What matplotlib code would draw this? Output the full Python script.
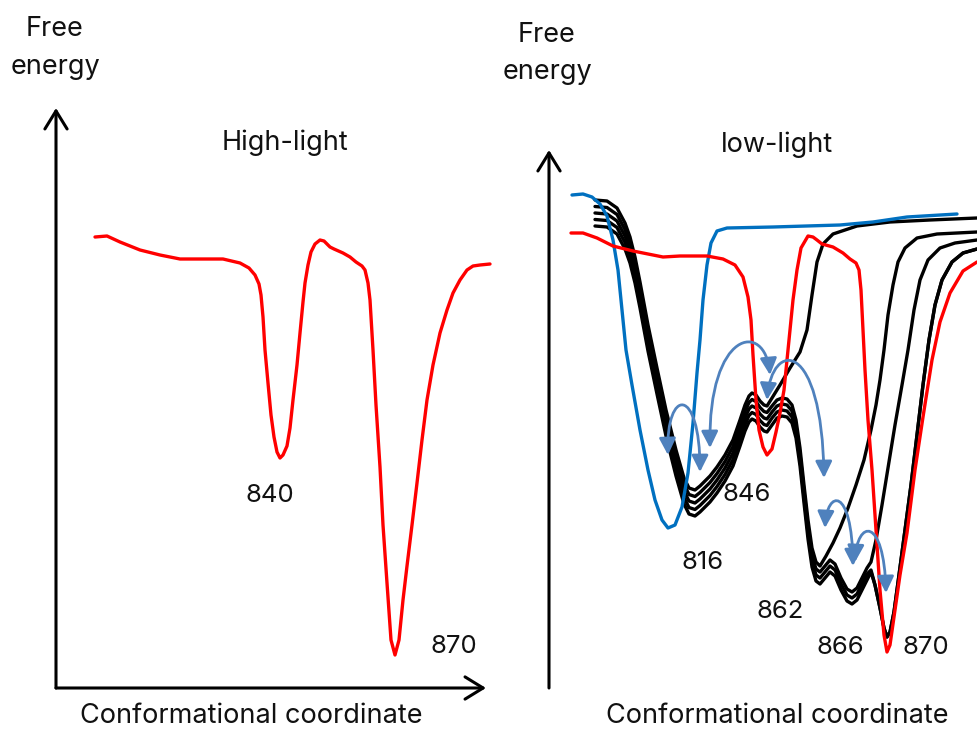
import matplotlib
matplotlib.use("Agg")
import matplotlib.pyplot as plt
from matplotlib.patches import FancyArrowPatch
from matplotlib.path import Path

plt.rcParams['font.family'] = ['Inter', 'DejaVu Sans']

# ---------------- data (positions, pixel units) ----------------
# High-light panel: red free-energy profile
hl_x = [95, 107, 120, 140, 160, 180, 200, 223, 240, 249, 255, 259, 261, 263, 265, 268, 271, 274, 277, 280,
        283, 287, 290, 293, 297, 300, 303, 305, 308, 311, 315, 320, 324, 327, 330, 334, 343, 350, 356, 362,
        365, 368, 370, 373, 376, 380, 383, 387, 391, 395, 399, 403, 407, 412, 417, 422, 427, 433, 440, 447,
        453, 460, 467, 473, 480, 490]
hl_y = [237, 236, 242, 250, 255, 259, 259, 259, 263, 268, 275, 284, 295, 317, 350, 383, 415, 437, 452, 458,
        455, 446, 428, 400, 365, 333, 302, 283, 265, 252, 244, 240, 241, 244, 247, 249, 253, 257, 262, 266,
        270, 283, 300, 350, 405, 467, 525, 583, 640, 655, 640, 600, 566, 525, 483, 440, 400, 365, 333, 310,
        293, 280, 270, 266, 265, 264]

# Low-light panel: red profile
ll_red_x = [571, 583, 597, 613, 633, 663, 680, 707, 723, 735, 743, 748, 751, 753, 756, 759, 763, 767, 772, 776,
            780, 784, 787, 790, 793, 797, 801, 808, 813, 817, 822, 833, 843, 850, 856, 859, 861, 863, 865, 868,
            872, 876, 880, 884, 887, 890, 895, 900, 907, 915, 923, 932, 940, 950, 963, 977]
ll_red_y = [233, 233, 238, 246, 251, 257, 256, 256, 259, 265, 277, 297, 320, 355, 400, 430, 447, 455, 449, 432,
            413, 390, 360, 330, 300, 270, 248, 236, 237, 240, 244, 247, 253, 259, 263, 270, 290, 330, 370, 420,
            470, 530, 590, 635, 652, 645, 610, 575, 533, 470, 417, 360, 322, 293, 271, 262]

# Low-light panel: blue profile
ll_blue_x = [572, 583, 592, 600, 607, 613, 618, 622, 626, 632, 640, 648, 655, 662, 668, 675, 682, 688, 693, 697,
             700, 703, 707, 711, 717, 727, 773, 840, 873, 907, 957]
ll_blue_y = [195, 194, 197, 204, 216, 240, 270, 310, 350, 385, 430, 470, 500, 520, 528, 525, 507, 473, 423, 373,
             340, 300, 265, 243, 231, 228, 227, 225, 222, 217, 214]

# Low-light panel: black family - shared left part (816 well, 846 dip) and vertical stack offsets
stack_x = [595, 607, 617, 625, 630, 635, 640, 648, 657, 666, 676, 684, 689, 695, 700, 710, 717, 725, 733, 740,
           745, 749, 752, 756, 760, 764, 767]
stack_y = [200, 201, 208, 223, 237, 257, 282, 325, 368, 410, 450, 478, 488, 490, 486, 476, 467, 455, 440, 420,
           405, 396, 393, 395, 401, 405, 406]
stack_offsets = [0, 6.5, 13, 19.5, 26]

# individual right-hand tails of the five black curves
tail0_x = [772, 780, 790, 800, 807, 812, 817, 823, 833, 857, 890, 930, 977]
tail0_y = [398, 385, 368, 352, 330, 295, 262, 244, 234, 226, 222, 220, 218]
tail1_x = [772, 777, 782, 787, 792, 796, 800, 804, 808, 812, 816, 820, 826, 833, 840, 848, 856, 864, 871, 876,
           880, 884, 888, 893, 898, 905, 917, 937, 977]
tail1_y = [406, 400, 398, 399, 405, 420, 448, 485, 520, 548, 562, 566, 556, 543, 528, 508, 485, 460, 430, 405,
           380, 350, 315, 285, 262, 248, 238, 234, 232]
tail2_x = [772, 777, 782, 787, 792, 796, 800, 804, 808, 812, 816, 820, 825, 830, 835, 841, 847, 852, 857, 862,
           867, 871, 876, 882, 888, 895, 902, 908, 914, 920, 928, 940, 955, 977]
tail2_y = [412, 406, 404, 405, 411, 426, 454, 491, 527, 555, 569, 572, 566, 560, 564, 578, 589, 592, 588, 578,
           568, 562, 540, 505, 468, 425, 385, 350, 310, 280, 260, 248, 243, 240]
tail3_x = [772, 777, 782, 787, 792, 796, 800, 804, 808, 812, 816, 820, 825, 830, 835, 841, 847, 852, 857, 862,
           867, 871, 875, 880, 884, 887, 890, 894, 899, 905, 911, 917, 923, 929, 935, 942, 952, 963, 977]
tail3_y = [418, 412, 410, 411, 417, 432, 460, 497, 533, 561, 575, 578, 572, 566, 570, 584, 595, 598, 594, 584,
           574, 570, 585, 608, 628, 637, 632, 612, 575, 530, 485, 435, 385, 340, 305, 280, 262, 253, 249]
tail4_x = [772, 777, 782, 787, 792, 796, 800, 804, 808, 812, 816, 820, 825, 830, 835, 841, 847, 852, 857, 862,
           867, 871, 875, 880, 884, 887, 890, 894, 899, 905, 911, 917, 923, 929, 935, 942, 952, 963, 977]
tail4_y = [425, 418, 416, 417, 423, 438, 466, 503, 539, 567, 581, 584, 578, 572, 576, 590, 601, 604, 600, 590,
           580, 572, 585, 608, 628, 637, 632, 612, 575, 530, 485, 435, 385, 340, 305, 280, 262, 253, 249]

tails_x = [tail0_x, tail1_x, tail2_x, tail3_x, tail4_x]
tails_y = [tail0_y, tail1_y, tail2_y, tail3_y, tail4_y]

# transition arrows (cubic Bezier: start, control, control, end)
trans_x = [[668, 666, 700, 700],
           [710, 708, 765, 770],
           [767, 772, 822, 824],
           [825, 827, 852, 853],
           [855, 857, 884, 886]]
trans_y = [[455, 388, 385, 472],
           [448, 330, 320, 375],
           [400, 340, 338, 478],
           [528, 490, 485, 566],
           [562, 520, 515, 593]]

# axes (origin, x tip, y tip) for the two panels
axes_origin = [(56, 688), (549, 688)]
axes_xtip = [(486, 688), (982, 688)]
axes_ytip = [(56, 108), (549, 150)]

# text labels
title_texts = ["High-light", "low-light"]
title_pos = [(285, 150), (777, 152)]
ylabel_pos = [[(55, 36), (55, 74)], [(547, 42), (548, 79)]]
xlabel_pos = [(251, 723), (777, 723)]
well_labels = ["840", "870", "816", "846", "862", "866", "870"]
well_pos = [(270, 502), (454, 653), (703, 569), (747, 501), (780, 618), (840, 654), (926, 654)]

RED = "#FF0000"
BLUE = "#0070C0"
ARROW = "#4F81BD"

# ---------------- drawing ----------------
fig = plt.figure(figsize=(9.77, 7.31), dpi=100)
ax = fig.add_axes([0, 0, 1, 1])
ax.set_xlim(0, 977)
ax.set_ylim(731, 0)
ax.axis("off")

lw = 2.4
# black family
for off, tx, ty in zip(stack_offsets, tails_x, tails_y):
    xs = stack_x + tx
    ys = [y + off for y in stack_y] + ty
    ax.plot(xs, ys, color="black", lw=lw, solid_joinstyle="round", solid_capstyle="round", zorder=2)

ax.plot(ll_blue_x, ll_blue_y, color=BLUE, lw=lw, solid_joinstyle="round", solid_capstyle="round", zorder=3)
ax.plot(ll_red_x, ll_red_y, color=RED, lw=lw, solid_joinstyle="round", solid_capstyle="round", zorder=4)
ax.plot(hl_x, hl_y, color=RED, lw=lw, solid_joinstyle="round", solid_capstyle="round", zorder=4)

# transition arrows
codes = [Path.MOVETO, Path.CURVE4, Path.CURVE4, Path.CURVE4]
for px, py in zip(trans_x, trans_y):
    p = Path(list(zip(px, py)), codes)
    arr = FancyArrowPatch(path=p, arrowstyle="<|-|>,head_length=1.0,head_width=0.5",
                          mutation_scale=10, color=ARROW, lw=2.0, zorder=6)
    ax.add_patch(arr)

# axes arrows
for o, xt, yt in zip(axes_origin, axes_xtip, axes_ytip):
    for tip in (xt, yt):
        ax.annotate("", xy=tip, xytext=o,
                    arrowprops=dict(arrowstyle="->,head_length=1.3,head_width=0.8",
                                    mutation_scale=10, lw=2.2, color="black",
                                    shrinkA=0, shrinkB=0))

fs = 19.5
for t, (x, y) in zip(title_texts, title_pos):
    ax.text(x, y, t, fontsize=fs, ha="center", va="baseline", color="#111111")
for (p1, p2) in ylabel_pos:
    ax.text(p1[0], p1[1], "Free", fontsize=fs, ha="center", va="baseline", color="#111111")
    ax.text(p2[0], p2[1], "energy", fontsize=fs, ha="center", va="baseline", color="#111111")
for (x, y) in xlabel_pos:
    ax.text(x, y, "Conformational coordinate", fontsize=fs, ha="center", va="baseline", color="#111111")
for t, (x, y) in zip(well_labels, well_pos):
    ax.text(x, y, t, fontsize=18.5, ha="center", va="baseline", color="#111111")

fig.savefig("out.png", dpi=100)
